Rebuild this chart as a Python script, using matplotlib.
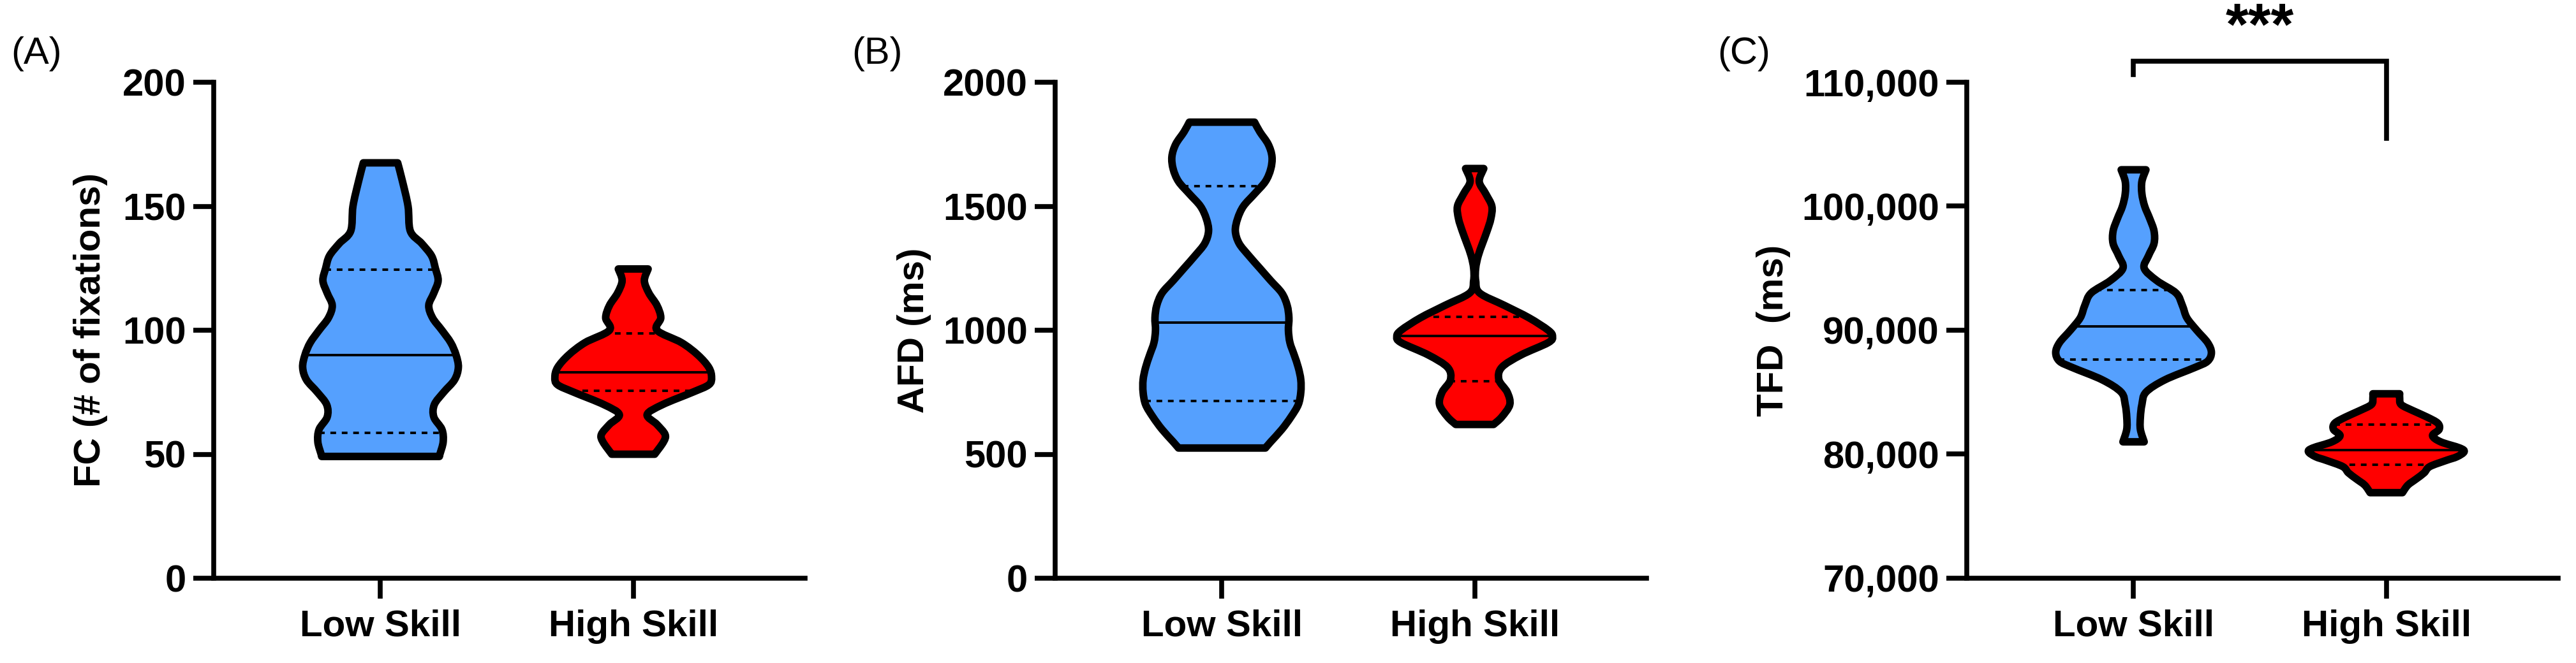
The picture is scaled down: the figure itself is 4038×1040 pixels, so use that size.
import numpy as np
import matplotlib.pyplot as plt
from matplotlib import font_manager
from matplotlib.path import Path
from matplotlib.patches import PathPatch

# groups
groups = ['Low Skill', 'High Skill']
colors = ['#55A0FE', '#FF0000']

# violin outlines: value levels and half widths (x units)
fc_low_y = [49.1, 50, 55, 60, 65, 70, 75, 80, 85, 90, 95, 100, 105, 110, 115, 120, 125, 130, 135, 140, 150, 160, 167.5]
fc_low_w = [0.233, 0.235, 0.248, 0.243, 0.211, 0.213, 0.250, 0.293, 0.308, 0.299, 0.278, 0.243, 0.206, 0.191, 0.211,
            0.228, 0.217, 0.202, 0.163, 0.118, 0.109, 0.087, 0.068]
fc_high_y = [50, 55, 58, 62, 66, 70, 75, 78, 81, 85, 90, 95, 100, 105, 110, 115, 120, 124.7]
fc_high_w = [0.085, 0.120, 0.126, 0.094, 0.055, 0.116, 0.235, 0.299, 0.310, 0.299, 0.256, 0.191, 0.094, 0.109, 0.094,
             0.062, 0.044, 0.059]

afd_low_y = [525, 550, 600, 650, 700, 750, 800, 850, 900, 950, 1000, 1050, 1100, 1150, 1200, 1250, 1300, 1350, 1400,
             1450, 1500, 1550, 1600, 1650, 1700, 1750, 1800, 1839]
afd_low_w = [0.172, 0.193, 0.237, 0.273, 0.302, 0.312, 0.312, 0.302, 0.286, 0.269, 0.263, 0.265, 0.258, 0.237, 0.193,
             0.150, 0.107, 0.068, 0.053, 0.062, 0.085, 0.129, 0.172, 0.193, 0.198, 0.183, 0.150, 0.129]
afd_high_y = [620, 650, 700, 750, 800, 850, 900, 950, 975, 1000, 1050, 1100, 1150, 1200, 1250, 1300, 1350, 1400, 1450,
              1500, 1550, 1600, 1652]
afd_high_w = [0.075, 0.107, 0.139, 0.129, 0.096, 0.107, 0.183, 0.291, 0.308, 0.291, 0.215, 0.118, 0.020, 0.004, 0.004,
              0.014, 0.031, 0.049, 0.064, 0.068, 0.044, 0.018, 0.036]

tfd_low_y = [81000, 82000, 83000, 84000, 85000, 86000, 87000, 87500, 88200, 89000, 90000, 91000, 92000, 93000, 94000,
             95000, 96000, 97000, 98000, 99000, 100000, 101000, 102000, 102940]
tfd_low_w = [0.042, 0.027, 0.027, 0.033, 0.049, 0.124, 0.243, 0.293, 0.308, 0.293, 0.250, 0.211, 0.193, 0.168, 0.092,
             0.042, 0.059, 0.081, 0.081, 0.064, 0.044, 0.033, 0.033, 0.049]
tfd_high_y = [76900, 77500, 78000, 78500, 79000, 79500, 79800, 80200, 80500, 81000, 81500, 82000, 82500, 83000, 83500,
              84000, 84500, 84875]
tfd_high_w = [0.064, 0.085, 0.118, 0.150, 0.172, 0.237, 0.280, 0.308, 0.291, 0.215, 0.183, 0.209, 0.204, 0.161, 0.107,
              0.059, 0.053, 0.053]

# quartile 1, median, quartile 3
fc_stats = [[58.7, 90, 124.3], [75.5, 83, 98.8]]
afd_stats = [[715, 1032, 1581], [795, 978, 1053]]
tfd_stats = [[87650, 90300, 93250], [79150, 80350, 82400]]

fc_ticks = [0, 50, 100, 150, 200]
afd_ticks = [0, 500, 1000, 1500, 2000]
tfd_ticks = [70000, 80000, 90000, 100000, 110000]
tfd_ticklabels = ['70,000', '80,000', '90,000', '100,000', '110,000']

names = {f.name for f in font_manager.fontManager.ttflist}
narrow = 'Liberation Sans Narrow' if 'Liberation Sans Narrow' in names else 'Liberation Sans'
plt.rcParams['font.family'] = ['Liberation Sans', 'DejaVu Sans']

W, H = 4038, 1040
fig = plt.figure(figsize=(W / 100, H / 100), dpi=100)


def smooth_side(pts):
    # cubic bezier pieces through the read points (catmull-rom style)
    verts, codes = [], []
    n = len(pts)
    for i in range(n - 1):
        p0 = pts[max(i - 1, 0)]
        p1 = pts[i]
        p2 = pts[i + 1]
        p3 = pts[min(i + 2, n - 1)]
        c1 = p1 + (p2 - p0) / 6
        c2 = p2 - (p3 - p1) / 6
        verts += [c1, c2, p2]
        codes += [Path.CURVE4] * 3
    return verts, codes


def outline(pos, ys, ws):
    ys = np.array(ys, float)
    ws = np.array(ws, float)
    left = np.column_stack([pos - ws, ys])
    right = np.column_stack([pos + ws, ys])[::-1]
    verts = [left[0]]
    codes = [Path.MOVETO]
    v, c = smooth_side(left)
    verts += v
    codes += c
    verts.append(right[0])
    codes.append(Path.LINETO)
    v, c = smooth_side(right)
    verts += v
    codes += c
    verts.append(left[0])
    codes.append(Path.CLOSEPOLY)
    return Path(np.array(verts), codes)


def violin(ax, pos, ys, ws, stats, color):
    path = outline(pos, ys, ws)
    ax.add_patch(PathPatch(path, facecolor=color, lw=0, zorder=2))
    for k, v in enumerate(stats):
        hw = np.interp(v, ys, ws)
        ax.plot([pos - hw, pos + hw], [v, v], color='black', zorder=3,
                lw=2.8, ls='-' if k == 1 else (0, (2.3, 2.3)))
    ax.add_patch(PathPatch(path, facecolor='none', edgecolor='black', lw=8.5, joinstyle='round', zorder=4))


def panel(left, ylim, ticks, ticklabels, profiles, stats):
    ax = fig.add_axes([left / W, (H - 907) / H, 927 / W, 778 / H])
    for i in range(2):
        violin(ax, i, profiles[i][0], profiles[i][1], stats[i], colors[i])
    ax.set_xlim(-0.66, 1.68)
    ax.set_ylim(*ylim)
    ax.set_yticks(ticks)
    ax.set_yticklabels(ticklabels, fontfamily=narrow, fontweight='bold', fontsize=43)
    ax.set_xticks([0, 1])
    ax.set_xticklabels(groups, fontweight='bold', fontsize=42)
    for s in ['top', 'right']:
        ax.spines[s].set_visible(False)
    for s in ['left', 'bottom']:
        ax.spines[s].set_linewidth(5.5)
    ax.tick_params(axis='y', length=23, width=5.5, pad=8)
    ax.tick_params(axis='x', length=23, width=5.5, pad=12)
    return ax


ax1 = panel(335, (0, 200), fc_ticks, [str(t) for t in fc_ticks],
            [(fc_low_y, fc_low_w), (fc_high_y, fc_high_w)], fc_stats)
ax2 = panel(1654, (0, 2000), afd_ticks, [str(t) for t in afd_ticks],
            [(afd_low_y, afd_low_w), (afd_high_y, afd_high_w)], afd_stats)
ax3 = panel(3083, (70000, 110000), tfd_ticks, tfd_ticklabels,
            [(tfd_low_y, tfd_low_w), (tfd_high_y, tfd_high_w)], tfd_stats)

# y labels
for xc, txt in [(142, 'FC (# of fixations)'), (1433, 'AFD (ms)'), (2780, 'TFD  (ms)')]:
    fig.text(xc / W, 1 - 518 / H, txt, rotation=90, ha='center', va='center', fontsize=42, fontweight='bold')

# panel letters
for xl, txt in [(17, '(A)'), (1335, '(B)'), (2692, '(C)')]:
    fig.text(xl / W, 1 - 84 / H, txt, ha='left', va='center', fontsize=43)

# significance bracket
ax3.plot([0, 0, 1, 1], [110600, 111700, 111700, 105500], color='black', lw=5.5, clip_on=False,
         solid_joinstyle='miter')
ax3.text(0.5, 114300, '***', ha='center', va='center', fontsize=66, fontweight='bold')

fig.savefig('out.png', dpi=100)
